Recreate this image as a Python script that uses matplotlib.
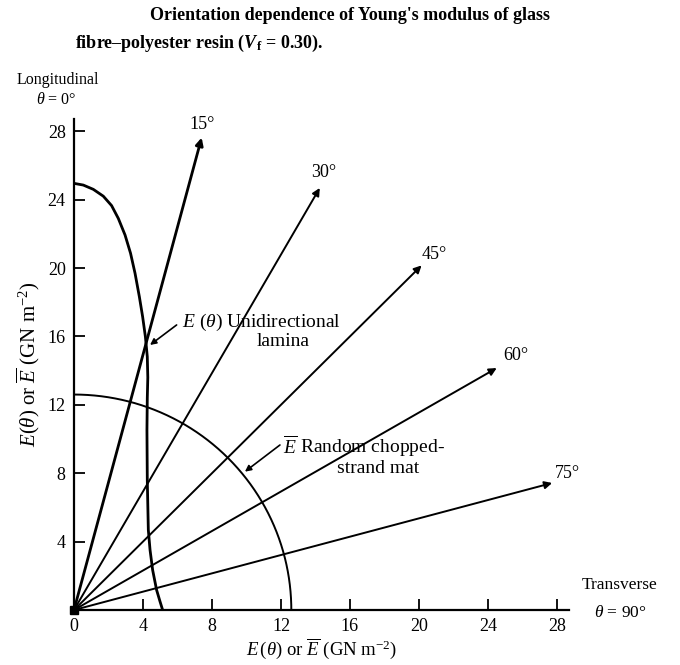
import numpy as np
import matplotlib
matplotlib.use('Agg')
import matplotlib.pyplot as plt

plt.rcParams['font.family'] = ['Liberation Serif', 'DejaVu Serif']
plt.rcParams['mathtext.fontset'] = 'custom'
plt.rcParams['mathtext.rm'] = 'Liberation Serif'
plt.rcParams['mathtext.it'] = 'Liberation Serif:italic'
plt.rcParams['mathtext.bf'] = 'Liberation Serif:bold'
plt.rcParams['mathtext.bfit'] = 'Liberation Serif:italic:bold'

# unidirectional lamina E(theta) (GN m^-2)
lamina_x = [0, 0.54, 1.12, 1.70, 2.18, 2.57, 2.96, 3.28, 3.54, 3.79, 3.98, 4.14,
            4.25, 4.28, 4.25, 4.23, 4.25, 4.31, 4.41, 4.56, 4.79, 4.99, 5.14]
lamina_y = [24.95, 24.85, 24.6, 24.2, 23.65, 22.9, 21.93, 20.86, 19.69, 18.32, 17.15, 15.98,
            14.81, 13.6, 12.4, 10.53, 7.6, 4.68, 3.51, 2.34, 1.17, 0.49, 0]

# random chopped-strand mat, same in every direction
mat_E = 12.6

# orientation rays
ray_angles = [15, 30, 45, 60, 75]
ray_length = [28.6, 28.5, 28.5, 28.3, 28.7]
ray_labels = ['15°', '30°', '45°', '60°', '75°']

ticks = [0, 4, 8, 12, 16, 20, 24, 28]

fig = plt.figure(figsize=(6.8, 6.65), dpi=100)
ax = fig.add_axes([0.1088, 0.0827, 0.728, 0.738])

# rays from origin
label_pos = [(7.4, 28.4), (14.5, 25.6), (20.9, 20.8), (25.6, 14.9), (28.6, 8.0)]
for ang, L, lab, (lx, ly) in zip(ray_angles, ray_length, ray_labels, label_pos):
    t = np.radians(ang)
    lw = 2.0 if ang == 15 else 1.4
    ax.annotate('', xy=(L * np.sin(t), L * np.cos(t)), xytext=(0, 0),
                arrowprops=dict(arrowstyle='-|>', lw=lw, color='black',
                                mutation_scale=11, shrinkA=0, shrinkB=0))
    ax.text(lx, ly, lab, fontsize=13, ha='center', va='center')

# mat: quarter circle
th = np.radians(np.linspace(0, 90, 200))
ax.plot(mat_E * np.sin(th), mat_E * np.cos(th), color='black', lw=1.4)

# lamina curve
ax.plot(lamina_x, lamina_y, color='black', lw=2.0, solid_joinstyle='round')

ax.plot([0], [0], marker='s', ms=6, color='black', clip_on=False)

# annotations
ax.text(6.26, 16.84, r'$E$ ($\theta$) Unidirectional', fontsize=14, ha='left', va='center')
ax.text(12.1, 15.7, 'lamina', fontsize=14, ha='center', va='center')
ax.annotate('', xy=(4.41, 15.5), xytext=(5.95, 16.67),
            arrowprops=dict(arrowstyle='-|>', lw=1.2, color='black',
                            mutation_scale=9, shrinkA=0, shrinkB=0))

ax.text(12.1, 9.6, r'$\overline{E}$ Random chopped-', fontsize=14, ha='left', va='center')
ax.text(15.23, 8.3, 'strand mat', fontsize=14, ha='left', va='center')
ax.annotate('', xy=(9.91, 8.09), xytext=(11.94, 9.65),
            arrowprops=dict(arrowstyle='-|>', lw=1.2, color='black',
                            mutation_scale=9, shrinkA=0, shrinkB=0))

ax.text(-3.3, 31.0, 'Longitudinal', fontsize=11.5, ha='left', va='center')
ax.text(-2.2, 29.8, r'$\theta$ = 0°', fontsize=11.5, ha='left', va='center')
ax.text(31.65, 1.46, 'Transverse', fontsize=12.5, ha='center', va='center')
ax.text(31.65, -0.16, r'$\theta$ = 90°', fontsize=12.5, ha='center', va='center')

ax.set_xlim(0, 28.7)
ax.set_ylim(0, 28.7)
ax.set_xticks(ticks)
ax.set_yticks(ticks[1:])
for s in ['top', 'right']:
    ax.spines[s].set_visible(False)
for s in ['left', 'bottom']:
    ax.spines[s].set_linewidth(1.6)
ax.tick_params(direction='in', length=8, width=1.3, labelsize=13)
ax.tick_params(axis='x', pad=6)
ax.tick_params(axis='y', pad=6)

ax.set_xlabel(r'$E\,(\theta)$ or $\overline{E}$ (GN m$^{-2}$)', fontsize=13.5, labelpad=1)
ax.set_ylabel(r'$E(\theta)$ or $\overline{E}$ (GN m$^{-2}$)', fontsize=15, labelpad=4)

fig.text(350 / 680, 1 - 15 / 665, "Orientation dependence of Young's modulus of glass",
         fontsize=13, weight='bold', ha='center', va='center')
fig.text(75 / 680, 1 - 43 / 665,
         r'fibre–polyester resin ($\mathbfit{V}_\mathbf{f}$ = 0.30).',
         fontsize=13, weight='bold', ha='left', va='center')

fig.savefig('out.png', dpi=100)
